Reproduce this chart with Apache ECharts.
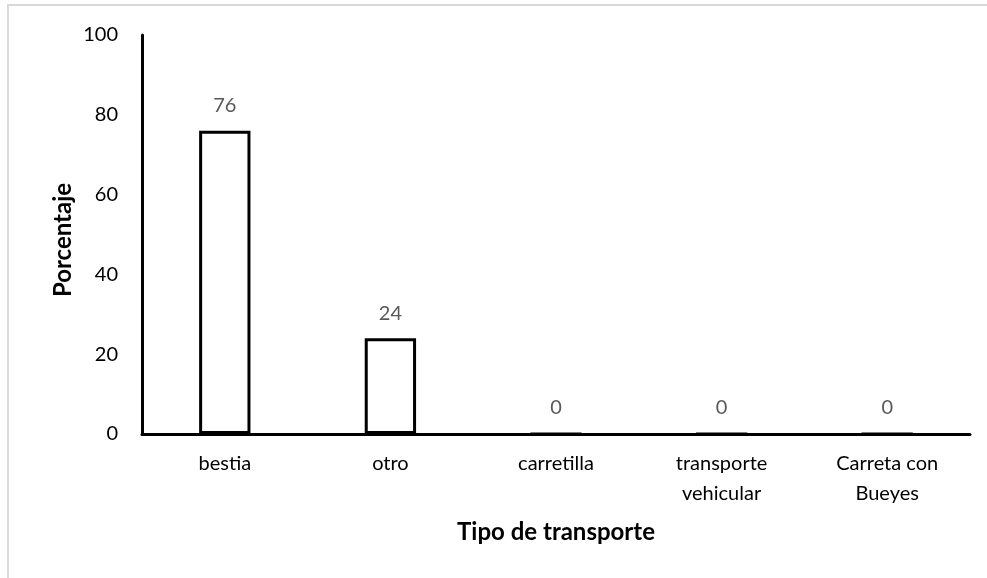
<!DOCTYPE html>
<html><head><meta charset="utf-8">
<script src="https://cdn.jsdelivr.net/npm/echarts@6/dist/echarts.min.js"></script>
<style>html,body{margin:0;padding:0;background:#fff}#c{width:987px;height:578px}</style>
</head><body><div id="c"></div>
<script>
const categories = ['bestia','otro','carretilla','transporte\nvehicular','Carreta con\nBueyes'];
const values = [76,24,0,0,0];
const yTicks = [0,20,40,60,80,100];
const yTitle = 'Porcentaje';
const xTitle = 'Tipo de transporte';
const FONT = 'Lato, "Open Sans", sans-serif';
const chart = echarts.init(document.getElementById('c'));
chart.setOption({
  animation:false,
  textStyle:{fontFamily:FONT},
  grid:{left:142,right:17,top:35,bottom:144},
  xAxis:{type:'category',data:categories,
    axisLine:{lineStyle:{color:'#000',width:3}},axisTick:{show:false},
    axisLabel:{color:'#000',fontSize:20,fontFamily:FONT,margin:15,lineHeight:30,interval:0}},
  yAxis:{type:'value',min:yTicks[0],max:yTicks[yTicks.length-1],interval:20,
    axisLine:{show:true,lineStyle:{color:'#000',width:3}},axisTick:{show:false},
    splitLine:{show:false},
    axisLabel:{color:'#000',fontSize:20,fontFamily:FONT,margin:24}},
  series:[{type:'bar',data:values,barWidth:'31%',
    itemStyle:{color:'#fff',borderColor:'#000',borderWidth:3},
    label:{show:true,position:'top',distance:15,color:'#595959',fontSize:20,fontFamily:FONT}}],
  graphic:[
    {type:'rect',shape:{x:8,y:5,width:1000,height:600},silent:true,z:-1,
      style:{fill:'none',stroke:'#d9d9d9',lineWidth:2}},
    {type:'text',x:556,y:532,
      style:{text:xTitle,font:'bold 24px '+FONT,fill:'#000',align:'center',verticalAlign:'middle'}},
    {type:'text',x:63,y:240,rotation:Math.PI/2,
      style:{text:yTitle,font:'bold 24px '+FONT,fill:'#000',align:'center',verticalAlign:'middle'}}
  ]
});
</script></body></html>
